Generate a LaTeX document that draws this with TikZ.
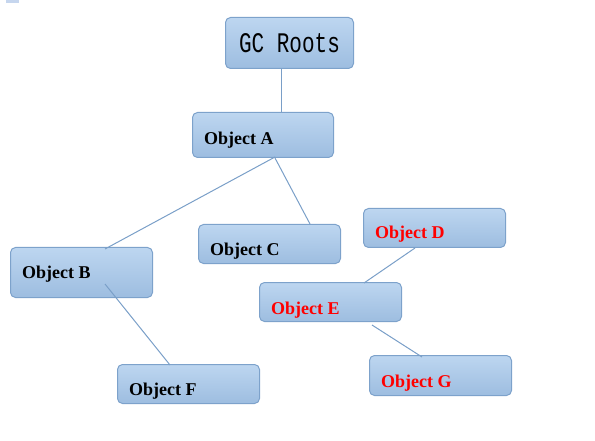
\documentclass[tikz,border=0pt]{standalone}
\usepackage{fontspec}
\setmainfont{Liberation Serif}
\newfontfamily\rootfont{Liberation Mono}
\usetikzlibrary{calc}

\definecolor{boxtop}{HTML}{BDD6F0}
\definecolor{boxbot}{HTML}{9DBDE0}
\definecolor{boxline}{HTML}{7DA2CB}
\definecolor{wire}{HTML}{7A9FC8}
\definecolor{cornerbit}{HTML}{C6D6EE}
\definecolor{deadred}{HTML}{FF0000}

\begin{document}
\begin{tikzpicture}[x=1pt,y=-1pt]
            \tikzset{box/.style={draw=boxline, line width=1pt, rounded corners=5pt, top color=boxtop, bottom color=boxbot, anchor=north west, minimum width=142pt, minimum height=39pt, inner sep=0pt}};
            \tikzset{objtext/.style={anchor=base west, inner sep=0pt, font=\bfseries\fontsize{18}{18}\selectfont}};
            \tikzset{line/.style={draw=wire, line width=1pt}};
            
            \useasboundingbox (0,0) rectangle (595,441);
            \fill[cornerbit] (6,0) rectangle (19,3);
            
            \node[box, minimum width=128pt, minimum height=51pt] (root) at (225,17) {\rootfont\fontsize{21}{21}\selectfont\scalebox{1}[1.35]{GC Roots}};
            
            \node[box, minimum width=141pt, minimum height=45pt] (a) at (192,112) {};
            \node[objtext] (la) at (204,145) {Object A};
            
            \node[box, minimum height=50pt] (b) at (10,247) {};
            \node[objtext] (lb) at (22,278) {Object B};
            
            \node[box] (c) at (198,224) {};
            \node[objtext] (lc) at (210,255) {Object C};
            
            \node[box] (d) at (363,208) {};
            \node[objtext, text=deadred] (ld) at (375,239) {Object D};
            
            \node[box] (e) at (259,282) {};
            \node[objtext, text=deadred] (le) at (271,314) {Object E};
            
            \node[box] (f) at (117,364) {};
            \node[objtext] (lf) at (129,395) {Object F};
            
            \node[box, minimum height=40pt] (g) at (369,355) {};
            \node[objtext, text=deadred] (lg) at (381,387) {Object G};
            
            \draw[line] ($(root.south west)+(56,0)$) -- ($(a.north west)+(89,0)$);
            \draw[line] ($(a.south west)+(83,-1)$) -- ($(b.north west)+(95,2)$);
            \draw[line] ($(a.south west)+(83,0)$) -- ($(c.north west)+(112,0)$);
            \draw[line] ($(b.south west)+(95,-14)$) -- ($(f.north west)+(53,1)$);
            \draw[line] ($(d.south west)+(52,0)$) -- ($(e.north west)+(105,1)$);
            \draw[line] ($(e.south west)+(113,3)$) -- ($(g.north west)+(53,2)$);
\end{tikzpicture}
\end{document}
